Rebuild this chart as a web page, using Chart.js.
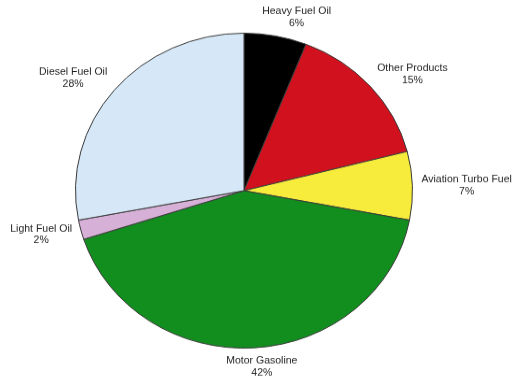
<!DOCTYPE html>
<html>
<head>
<meta charset="utf-8">
<script src="https://cdn.jsdelivr.net/npm/chart.js@4.4.1/dist/chart.umd.min.js"></script>
<style>
    html, body { margin: 0; padding: 0; background: #fff; overflow: hidden; }
    #wrap { width: 514px; height: 379px; overflow: hidden; }
    /* the original pie is slightly wider than tall, so squash the canvas vertically */
    #pie-chart { display: block; transform: scaleY(0.9345); transform-origin: 0 0; }
</style>
</head>
<body>
<div id="wrap">
    <canvas id="pie-chart" width="514" height="406"></canvas>
</div>
<script>
// Data
const categories = ['Heavy Fuel Oil', 'Other Products', 'Aviation Turbo Fuel', 'Motor Gasoline', 'Light Fuel Oil', 'Diesel Fuel Oil'];
const shares = [6, 15, 7, 42, 2, 28];
const sliceColors = ['#000000', '#d2111e', '#f7ec3b', '#128e1f', '#d7b0d7', '#d6e8f7'];

const SQUASH = 0.9345;

// Draws "Category / nn%" outside each slice
const outsideLabels = {
    id: 'outsideLabels',
    afterDraw(chart) {
        const ctx = chart.ctx;
        const arcs = chart.getDatasetMeta(0).data;
        ctx.save();
        ctx.scale(1, 1 / SQUASH);
        ctx.font = '10.5px "Liberation Sans", Arial, sans-serif';
        ctx.fillStyle = '#222';
        ctx.textAlign = 'center';
        ctx.textBaseline = 'middle';
        const lineH = 12;
        arcs.forEach((arc, i) => {
            const mid = (arc.startAngle + arc.endAngle) / 2;
            const sx = Math.cos(mid);
            const sy = Math.sin(mid);
            const cx = arc.x;
            const cy = arc.y * SQUASH;
            const rx = arc.outerRadius + 9;
            const ry = arc.outerRadius * SQUASH + 7;
            const px = cx + rx * sx;
            const py = cy + ry * sy;
            const lines = [categories[i], shares[i] + '%'];
            const w = Math.max(...lines.map(t => ctx.measureText(t).width));
            const h = lines.length * lineH;
            const fx = Math.max(-1, Math.min(1, sx * 3));
            const left = px - w * (1 - fx) / 2;
            const top = py - h * (1 - sy) / 2;
            lines.forEach((t, k) => {
                ctx.fillText(t, left + w / 2, top + lineH * (k + 0.5));
            });
        });
        ctx.restore();
    }
};

const pieCtx = document.getElementById('pie-chart').getContext('2d');
const pieChart = new Chart(pieCtx, {
    type: 'pie',
    data: {
        labels: categories,
        datasets: [{
            data: shares,
            backgroundColor: sliceColors,
            borderColor: '#3a3a3a',
            borderWidth: 1
        }]
    },
    options: {
        responsive: false,
        animation: false,
        layout: {
            padding: { left: 75, right: 101, top: 35, bottom: 33 }
        },
        plugins: {
            legend: { display: false },
            tooltip: { enabled: false }
        }
    },
    plugins: [outsideLabels]
});
</script>
</body>
</html>
